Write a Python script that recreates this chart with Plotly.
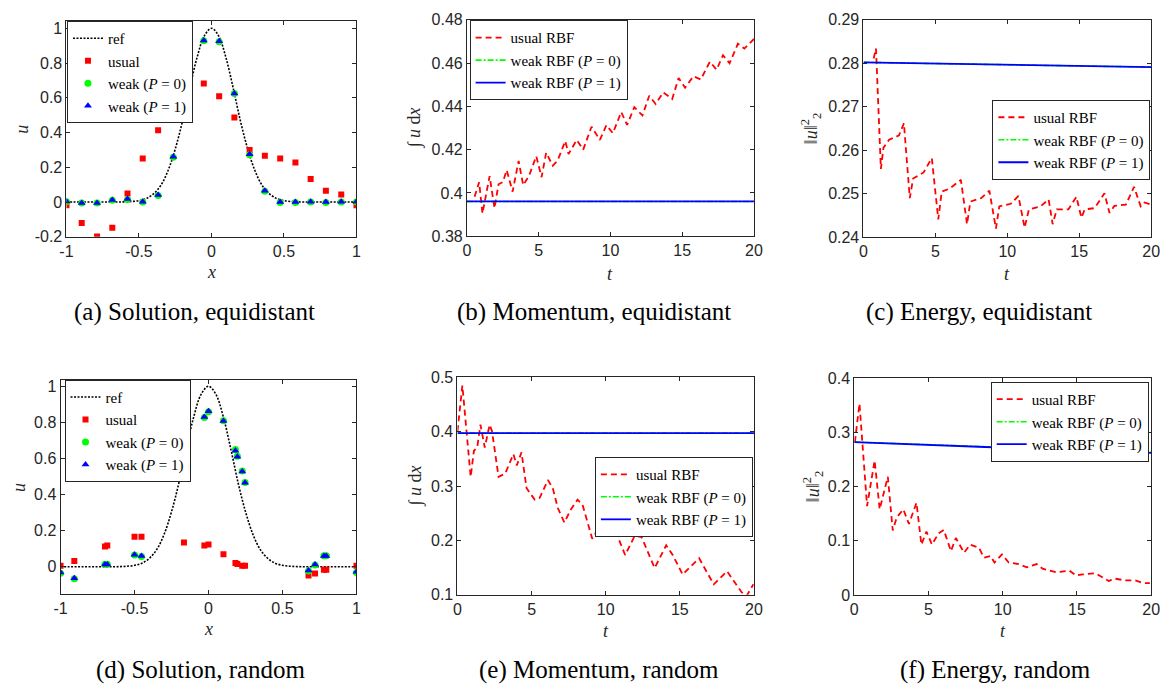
import plotly.graph_objects as go

W, H = 1174, 697

# ---------------- data ----------------
# reference solution
ref_x = [-1.0, -0.95, -0.9, -0.85, -0.8, -0.75, -0.7, -0.65, -0.6, -0.55, -0.5, -0.45, -0.4, -0.35,
         -0.3, -0.25, -0.2, -0.15, -0.1, -0.05, 0.0, 0.05, 0.1, 0.15, 0.2, 0.25, 0.3, 0.35, 0.4,
         0.45, 0.5, 0.55, 0.6, 0.65, 0.7, 0.75, 0.8, 0.85, 0.9, 0.95, 1.0]
ref_u = [0, 0, 0, 0, 0, 0, 0, 0, 0.001, 0.003, 0.008, 0.02, 0.047, 0.095,
         0.18, 0.305, 0.465, 0.655, 0.83, 0.955, 1.0, 0.955, 0.83, 0.655, 0.465, 0.305, 0.18, 0.095, 0.047,
         0.02, 0.008, 0.003, 0.001, 0, 0, 0, 0, 0, 0, 0, 0]

# (a) equidistant nodes
eq_x = [-1.0, -0.895, -0.789, -0.684, -0.579, -0.474, -0.368, -0.263, -0.158, -0.053,
        0.053, 0.158, 0.263, 0.368, 0.474, 0.579, 0.684, 0.789, 0.895, 1.0]
eq_usual = [-0.019, -0.12, -0.198, -0.148, 0.049, 0.25, 0.413, 0.52, 0.63, 0.682,
            0.609, 0.486, 0.30, 0.267, 0.25, 0.228, 0.133, 0.065, 0.043, -0.019]
eq_weak0 = [0.002, -0.006, -0.006, 0.01, 0.015, 0.0, 0.038, 0.258, 0.628, 0.928,
            0.922, 0.624, 0.272, 0.062, -0.002, -0.002, 0.0, -0.002, 0.0, 0.0]
eq_weak1 = [0.003, -0.005, -0.005, 0.011, 0.017, 0.001, 0.04, 0.26, 0.63, 0.93,
            0.925, 0.625, 0.275, 0.065, 0.0, 0.0, 0.001, 0.0, 0.001, 0.001]

# (d) random nodes
rd_x = [-1.0, -0.907, -0.70, -0.684, -0.5, -0.453, -0.166, -0.028, 0.0, 0.101,
        0.182, 0.195, 0.228, 0.247, 0.676, 0.72, 0.78, 0.796, 1.0]
rd_usual = [0.005, 0.032, 0.112, 0.118, 0.166, 0.166, 0.134, 0.118, 0.123, 0.07,
            0.021, 0.016, 0.005, 0.005, -0.048, -0.037, -0.016, -0.016, 0.005]
rd_weak0 = [-0.036, -0.066, 0.014, 0.014, 0.065, 0.057, 0.547, 0.826, 0.858, 0.808,
            0.65, 0.612, 0.53, 0.466, -0.024, 0.01, 0.061, 0.061, -0.031]
rd_weak1 = [-0.032, -0.064, 0.012, 0.012, 0.067, 0.059, 0.546, 0.829, 0.861, 0.807,
            0.643, 0.609, 0.528, 0.465, -0.021, 0.012, 0.059, 0.059, -0.027]

# (b) momentum, equidistant
b_t = [0.53, 0.85, 1.08, 1.58, 1.92, 2.2, 2.5, 2.77, 3.18, 3.6, 3.92, 4.33, 4.83, 5.2, 5.52,
       5.98, 6.32, 6.85, 7.08, 7.65, 8.1, 8.68, 9.26, 9.72, 10.17, 10.75, 11.16, 11.66, 12.23,
       12.7, 13.15, 13.68, 14.3, 14.75, 15.2, 15.78, 16.29, 16.93, 17.39, 17.84, 18.3, 18.88,
       19.33, 20.0]
b_usual = [0.3983, 0.405, 0.3905, 0.4078, 0.393, 0.404, 0.405, 0.4106, 0.4006, 0.4148, 0.4036,
           0.408, 0.417, 0.4073, 0.4186, 0.4126, 0.415, 0.424, 0.418, 0.4245, 0.420, 0.4306,
           0.4245, 0.4313, 0.4276, 0.4374, 0.4314, 0.4396, 0.4358, 0.4449, 0.4411, 0.4464,
           0.4434, 0.4531, 0.4486, 0.4539, 0.4524, 0.4606, 0.4569, 0.4636, 0.4599, 0.4689,
           0.4667, 0.4711]
b_tw = [0, 5, 10, 15, 20]
b_weak0 = [0.3961, 0.3961, 0.3961, 0.3961, 0.3961]
b_weak1 = [0.3961, 0.3961, 0.3961, 0.3961, 0.3961]

# (c) energy, equidistant
c_t = [0.71, 0.87, 1.21, 1.39, 1.78, 2.47, 2.81, 3.22, 3.45, 4.18, 4.75, 5.2, 5.44, 6.0, 6.77,
       7.2, 7.43, 8.18, 8.75, 9.21, 9.44, 10.24, 10.77, 11.2, 11.5, 12.3, 12.87, 13.15, 13.44,
       14.24, 14.8, 15.15, 15.38, 16.07, 16.75, 17.1, 17.44, 18.24, 18.81, 19.27, 19.54, 20.0]
c_usual = [0.2811, 0.2834, 0.2557, 0.2606, 0.2624, 0.2634, 0.2662, 0.249, 0.2535, 0.2549, 0.2582,
           0.2441, 0.2505, 0.2512, 0.2532, 0.243, 0.2482, 0.249, 0.2507, 0.242, 0.2471, 0.2477,
           0.2495, 0.2422, 0.2464, 0.2471, 0.2487, 0.243, 0.2464, 0.2464, 0.2493, 0.2445, 0.2464,
           0.2467, 0.2501, 0.2456, 0.2472, 0.2475, 0.2516, 0.2471, 0.248, 0.2475]
c_tw = [0, 5, 10, 15, 20]
c_weak0 = [0.2802, 0.27995, 0.27965, 0.2794, 0.2791]
c_weak1 = [0.2802, 0.2799, 0.2796, 0.2794, 0.2791]

# (e) momentum, random
e_t = [0.0, 0.33, 0.89, 1.11, 1.33, 1.55, 1.84, 2.17, 2.33, 2.77, 3.22, 3.77, 4.0, 4.32, 4.66,
       5.21, 5.54, 6.1, 6.43, 6.76, 7.21, 7.65, 8.1, 8.43, 9.09, 9.65, 9.98, 10.42, 11.31, 11.97,
       12.42, 13.3, 14.08, 14.52, 15.19, 16.3, 16.85, 17.29, 18.18, 19.18, 19.51, 19.96]
e_usual = [0.401, 0.485, 0.317, 0.365, 0.371, 0.413, 0.371, 0.413, 0.401, 0.317, 0.323, 0.359,
           0.338, 0.362, 0.296, 0.275, 0.278, 0.311, 0.296, 0.260, 0.233, 0.257, 0.275, 0.266,
           0.203, 0.227, 0.245, 0.233, 0.173, 0.209, 0.206, 0.149, 0.191, 0.173, 0.137, 0.167,
           0.140, 0.119, 0.143, 0.104, 0.098, 0.119]
e_tw = [0, 5, 10, 15, 20]
e_weak0 = [0.3976, 0.3976, 0.3976, 0.3976, 0.3976]
e_weak1 = [0.3975, 0.3975, 0.3975, 0.3975, 0.3975]

# (f) energy, random
f_t = [0.04, 0.35, 0.86, 1.37, 1.71, 2.26, 2.59, 2.86, 3.3, 3.68, 4.19, 4.52, 4.86, 5.23, 5.68,
       6.03, 6.51, 6.84, 7.4, 7.8, 8.4, 8.73, 9.17, 9.44, 9.95, 10.4, 11.06, 11.62, 12.28, 12.72,
       13.6, 14.49, 14.93, 15.37, 16.26, 17.14, 17.59, 18.25, 18.91, 19.47, 19.91]
f_usual = [0.282, 0.353, 0.164, 0.248, 0.158, 0.218, 0.119, 0.143, 0.158, 0.131, 0.170, 0.093,
           0.117, 0.093, 0.114, 0.120, 0.081, 0.105, 0.078, 0.093, 0.087, 0.069, 0.072, 0.060,
           0.075, 0.060, 0.057, 0.051, 0.057, 0.048, 0.042, 0.045, 0.036, 0.038, 0.040, 0.026,
           0.030, 0.027, 0.027, 0.022, 0.022]
f_tw = [0, 5, 10, 15, 20]
f_weak0 = [0.282, 0.277, 0.272, 0.2675, 0.2635]
f_weak1 = [0.282, 0.2765, 0.271, 0.2665, 0.262]

# tick labels
x_sol_ticks = [-1, -0.5, 0, 0.5, 1]
x_sol_text = ["-1", "-0.5", "0", "0.5", "1"]
t_ticks = [0, 5, 10, 15, 20]
t_text = ["0", "5", "10", "15", "20"]
a_yticks = [-0.2, 0, 0.2, 0.4, 0.6, 0.8, 1]
a_ytext = ["-0.2", "0", "0.2", "0.4", "0.6", "0.8", "1"]
b_yticks = [0.38, 0.40, 0.42, 0.44, 0.46, 0.48]
b_ytext = ["0.38", "0.4", "0.42", "0.44", "0.46", "0.48"]
c_yticks = [0.24, 0.25, 0.26, 0.27, 0.28, 0.29]
c_ytext = ["0.24", "0.25", "0.26", "0.27", "0.28", "0.29"]
d_yticks = [0, 0.2, 0.4, 0.6, 0.8, 1]
d_ytext = ["0", "0.2", "0.4", "0.6", "0.8", "1"]
e_yticks = [0.1, 0.2, 0.3, 0.4, 0.5]
e_ytext = ["0.1", "0.2", "0.3", "0.4", "0.5"]
f_yticks = [0, 0.1, 0.2, 0.3, 0.4]
f_ytext = ["0", "0.1", "0.2", "0.3", "0.4"]

captions = ["(a) Solution, equidistant", "(b) Momentum, equidistant", "(c) Energy, equidistant",
            "(d) Solution, random", "(e) Momentum, random", "(f) Energy, random"]

# ---------------- styling ----------------
RED, GREEN, BLUE = "#ff0000", "#00ff00", "#0000ff"
AX = "#262626"
SERIF = "Liberation Serif"
SANS = "Liberation Sans"


def px(x):
    return x / W


def py(y):
    return 1 - y / H


# axes boxes in pixels: (left, right, top, bottom)
boxes = [
    (60.3, 354.3, 13.3, 234.5),
    (466.3, 757.3, 12.0, 234.0),
    (868.3, 1160.0, 12.0, 235.0),
    (54.3, 354.3, 381.7, 600.7),
    (456.7, 757.3, 378.7, 601.3),
    (859.0, 1160.0, 379.3, 601.7),
]
yranges = [[-0.2, 1.042], [0.38, 0.48], [0.24, 0.29], [-0.151, 1.032], [0.1, 0.5], [0, 0.4]]
xranges = [[-1, 1], [0, 20], [0, 20], [-1, 1], [0, 20], [0, 20]]
xticks = [(x_sol_ticks, x_sol_text), (t_ticks, t_text), (t_ticks, t_text),
          (x_sol_ticks, x_sol_text), (t_ticks, t_text), (t_ticks, t_text)]
yticks = [(a_yticks, a_ytext), (b_yticks, b_ytext), (c_yticks, c_ytext),
          (d_yticks, d_ytext), (e_yticks, e_ytext), (f_yticks, f_ytext)]

fig = go.Figure()

layout = dict(width=W, height=H, autosize=False, margin=dict(l=0, r=0, t=0, b=0, pad=0),
              paper_bgcolor="white", plot_bgcolor="white", showlegend=True)

for i in range(6):
    n = "" if i == 0 else str(i + 1)
    l, r, t, b = boxes[i]
    common = dict(showline=True, linecolor=AX, linewidth=1, mirror="ticks", ticks="inside",
                  ticklen=4, tickwidth=1, tickcolor=AX, showgrid=False, zeroline=False,
                  tickfont=dict(family=SANS, size=16, color=AX))
    layout["xaxis" + n] = dict(domain=[px(l), px(r)], anchor="y" + n, range=xranges[i],
                               tickvals=xticks[i][0], ticktext=xticks[i][1], **common)
    layout["yaxis" + n] = dict(domain=[py(b), py(t)], anchor="x" + n, range=yranges[i],
                               tickvals=yticks[i][0], ticktext=yticks[i][1], **common)

# legends
legend_pos = [(60.8, 13.3), (469.0, 12.7), (999.0, 94.3), (58.3, 381.0), (596.0, 460.3), (997.3, 383.3)]
for i, (lx, ly) in enumerate(legend_pos):
    n = "legend" if i == 0 else "legend" + str(i + 1)
    layout[n] = dict(x=px(lx), y=py(ly), xanchor="left", yanchor="top", bgcolor="white",
                     bordercolor=AX, borderwidth=1, itemwidth=30, tracegroupgap=0,
                     font=dict(family=SERIF, size=15, color="black"))


def lg(i):
    return "legend" if i == 0 else "legend" + str(i + 1)


# solution panels
for i, (xs, us, w0, w1) in enumerate([(eq_x, eq_usual, eq_weak0, eq_weak1),
                                      (rd_x, rd_usual, rd_weak0, rd_weak1)]):
    k = 0 if i == 0 else 3
    n = "" if k == 0 else str(k + 1)
    xa, ya = "x" + n, "y" + n
    fig.add_trace(go.Scatter(x=ref_x, y=ref_u, mode="lines", name="ref", legend=lg(k),
                             line=dict(color="black", width=1.6, dash="2px,1.5px", shape="spline"),
                             xaxis=xa, yaxis=ya))
    fig.add_trace(go.Scatter(x=xs, y=us, mode="markers", name="usual", legend=lg(k),
                             marker=dict(symbol="square", color=RED, size=6, line=dict(width=0)),
                             xaxis=xa, yaxis=ya))
    fig.add_trace(go.Scatter(x=xs, y=w0, mode="markers", name="weak (<i>P</i> = 0)", legend=lg(k),
                             marker=dict(symbol="circle", color=GREEN, size=7, line=dict(width=0)),
                             xaxis=xa, yaxis=ya))
    fig.add_trace(go.Scatter(x=xs, y=w1, mode="markers", name="weak (<i>P</i> = 1)", legend=lg(k),
                             marker=dict(symbol="triangle-up", color=BLUE, size=7, line=dict(width=0)),
                             xaxis=xa, yaxis=ya))

# time series panels
series = [(1, b_t, b_usual, b_tw, b_weak0, b_weak1),
          (2, c_t, c_usual, c_tw, c_weak0, c_weak1),
          (4, e_t, e_usual, e_tw, e_weak0, e_weak1),
          (5, f_t, f_usual, f_tw, f_weak0, f_weak1)]
for k, tt, us, tw, w0, w1 in series:
    n = str(k + 1)
    xa, ya = "x" + n, "y" + n
    fig.add_trace(go.Scatter(x=tt, y=us, mode="lines", name="usual RBF", legend=lg(k),
                             line=dict(color=RED, width=1.8, dash="6px,4px"),
                             xaxis=xa, yaxis=ya))
    fig.add_trace(go.Scatter(x=tw, y=w0, mode="lines", name="weak RBF (<i>P</i> = 0)", legend=lg(k),
                             line=dict(color=GREEN, width=1.6, dash="6px,2px,2px,2px"),
                             xaxis=xa, yaxis=ya))
    fig.add_trace(go.Scatter(x=tw, y=w1, mode="lines", name="weak RBF (<i>P</i> = 1)", legend=lg(k),
                             line=dict(color=BLUE, width=1.8),
                             xaxis=xa, yaxis=ya))

# annotations: axis titles and captions
ann = []
ylabels = ["<i>u</i>", "∫ <i>u</i> d<i>x</i>", "‖<i>u</i>‖<sup>2</sup><sub>2</sub>",
           "<i>u</i>", "∫ <i>u</i> d<i>x</i>", "‖<i>u</i>‖<sup>2</sup><sub>2</sub>"]
ylabel_x = [15, 413, 815, 12, 414, 817]
xlabels = ["<i>x</i>", "<i>t</i>", "<i>t</i>", "<i>x</i>", "<i>t</i>", "<i>t</i>"]
xlabel_y = [271, 273, 273, 637, 639, 639]
cap_x = [190, 595, 985, 197, 600, 1002]
cap_y = [312, 312, 312, 679, 679, 679]
for i in range(6):
    l, r, t, b = boxes[i]
    ann.append(dict(x=px(ylabel_x[i]), y=py((t + b) / 2), xref="paper", yref="paper",
                    xanchor="center", yanchor="middle",
                    text=ylabels[i], textangle=-90, showarrow=False,
                    font=dict(family=SERIF, size=18, color=AX)))
    ann.append(dict(x=px((l + r) / 2), y=py(xlabel_y[i]), xref="paper", yref="paper",
                    xanchor="center", yanchor="middle",
                    text=xlabels[i], showarrow=False,
                    font=dict(family=SERIF, size=18, color=AX)))
    ann.append(dict(x=px(cap_x[i]), y=py(cap_y[i]), xref="paper", yref="paper",
                    xanchor="center", yanchor="middle",
                    text=captions[i], showarrow=False,
                    font=dict(family=SERIF, size=25, color="black")))
layout["annotations"] = ann

fig.update_layout(**layout)
fig.write_html("out.html",
               config={"displayModeBar": False, "responsive": False},
               post_script="document.documentElement.style.margin='0';"
                           "document.documentElement.style.overflow='hidden';"
                           "document.body.style.margin='0';"
                           "document.body.style.padding='0';"
                           "document.body.style.overflow='hidden';")
